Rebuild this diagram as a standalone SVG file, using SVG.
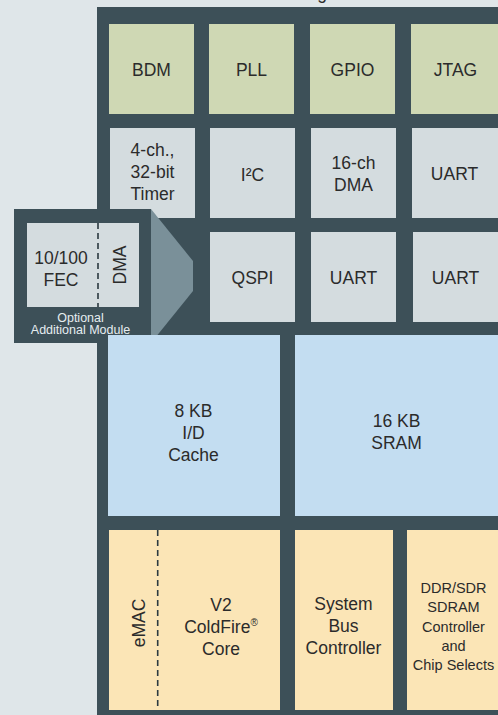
<svg xmlns="http://www.w3.org/2000/svg" width="498" height="715" viewBox="0 0 498 715">
<style>
text{font-family:"Liberation Sans",Arial,sans-serif;fill:#2b2b2b;text-anchor:middle}
.t{font-size:17.5px}
.s{font-size:14.5px}
.o{font-size:12.5px;fill:#e6edf0}
.g{fill:#cfd8b4}
.y{fill:#d4dcdf}
.b{fill:#c3ddf1}
.w{fill:#fbe5b6}
.dash{stroke:#2b3a40;stroke-width:1.6;stroke-dasharray:6 4;fill:none}
</style>
<rect x="0" y="0" width="498" height="715" fill="#dfe6e9"/>
<text class="t" x="322" y="-1.5">g</text>
<rect id="frame" x="97" y="7" width="410" height="715" fill="#3d5058"/>
<g id="bdm"><rect class="g" x="109" y="24" width="85" height="90"/><text class="t" x="151.5" y="75.5">BDM</text></g>
<g id="pll"><rect class="g" x="209" y="24" width="85" height="90"/><text class="t" x="251.5" y="75.5">PLL</text></g>
<g id="gpio"><rect class="g" x="310" y="24" width="85" height="90"/><text class="t" x="352.5" y="75.5">GPIO</text></g>
<g id="jtag"><rect class="g" x="411" y="24" width="95" height="90"/><text class="t" x="455.5" y="75.5">JTAG</text></g>
<g id="timer"><rect class="y" x="110" y="128" width="85" height="90"/><text class="t" x="152.5" y="156">4-ch.,</text><text class="t" x="152.5" y="178">32-bit</text><text class="t" x="152.5" y="200">Timer</text></g>
<g id="i2c"><rect class="y" x="210" y="128" width="85" height="90"/><text class="t" x="252.5" y="181">I²C</text></g>
<g id="dma16"><rect class="y" x="311" y="128" width="85" height="90"/><text class="t" x="353.5" y="169">16-ch</text><text class="t" x="353.5" y="191">DMA</text></g>
<g id="uart1"><rect class="y" x="412" y="128" width="95" height="90"/><text class="t" x="454.5" y="180">UART</text></g>
<g id="qspi"><rect class="y" x="210" y="232" width="85" height="90"/><text class="t" x="252.5" y="283.5">QSPI</text></g>
<g id="uart2"><rect class="y" x="311" y="232" width="85" height="90"/><text class="t" x="353.5" y="283.5">UART</text></g>
<g id="uart3"><rect class="y" x="413" y="232" width="95" height="90"/><text class="t" x="455.5" y="283.5">UART</text></g>
<g id="connectors"><polygon points="151,209 193,261 193,291 151,343" fill="#7a9099"/></g>
<g id="fec-module">
<rect x="14" y="209" width="137" height="134" fill="#3d5058"/>
<rect class="y" x="27" y="223" width="112" height="84"/>
<line class="dash" x1="98" y1="223" x2="98" y2="307"/>
<text class="t" x="61" y="264">10/100</text><text class="t" x="61" y="286">FEC</text>
<text class="t" transform="translate(125.5,265) rotate(-90)">DMA</text>
<text class="o" x="80.5" y="321.5">Optional</text><text class="o" x="80.5" y="334">Additional Module</text>
</g>
<g id="cache"><rect class="b" x="108" y="335" width="172" height="181"/><text class="t" x="193.5" y="416.5">8 KB</text><text class="t" x="193.5" y="438.5">I/D</text><text class="t" x="193.5" y="460.5">Cache</text></g>
<g id="sram"><rect class="b" x="295" y="335" width="212" height="181"/><text class="t" x="396.5" y="427">16 KB</text><text class="t" x="396.5" y="449">SRAM</text></g>
<g id="core"><rect class="w" x="109" y="530" width="171" height="180"/><line class="dash" x1="157.7" y1="530" x2="157.7" y2="710"/>
<text class="t" transform="translate(144.5,623) rotate(-90)">eMAC</text>
<text class="t" x="221" y="610.5">V2</text><text class="t" x="221" y="632.5">ColdFire<tspan font-size="10" dy="-7">®</tspan></text><text class="t" x="221" y="655">Core</text></g>
<g id="sysbus"><rect class="w" x="295" y="530" width="98" height="180"/><text class="t" x="343.5" y="610">System</text><text class="t" x="343.5" y="632">Bus</text><text class="t" x="343.5" y="653.5">Controller</text></g>
<g id="ddr"><rect class="w" x="407" y="530" width="100" height="180"/><text class="s" x="453.5" y="592.5">DDR/SDR</text><text class="s" x="453.5" y="612">SDRAM</text><text class="s" x="453.5" y="631.5">Controller</text><text class="s" x="453.5" y="650.5">and</text><text class="s" x="453.5" y="669.5">Chip Selects</text></g>
</svg>
